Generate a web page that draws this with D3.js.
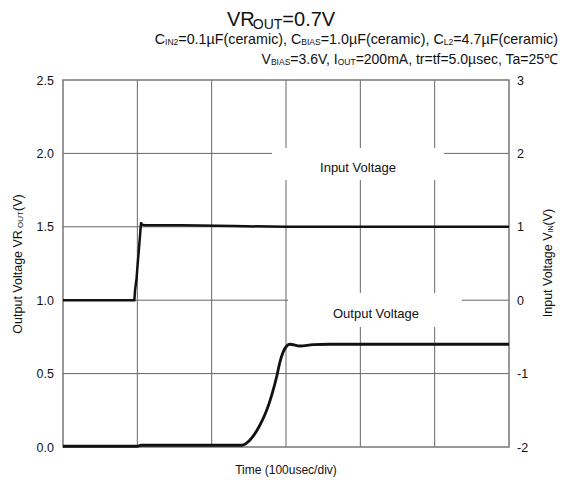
<!DOCTYPE html>
<html lang="en">
<head>
    <meta charset="UTF-8">
    <title>VR_OUT transient</title>
    <script src="https://d3js.org/d3.v7.min.js"></script>
    <style>
        body { margin: 0; background: #fff; }
        text { font-family: Arial, "Liberation Sans", sans-serif; fill: #111; }
    </style>
</head>
<body>
    <script>
        // time in usec, 100 usec per division
        var inputTime  = [0, 96, 97, 99, 100.5, 103, 105, 106, 110, 160, 230, 300, 600];
        var inputVolts = [0, 0, 0.14, 0.3, 0.5, 0.8, 1.06, 1.03, 1.02, 1.02, 1.01, 1.0, 1.0];

        var outputTime  = [0, 100, 105, 240.4, 251.6, 265, 274, 280.8, 287.5, 291.9, 296.4, 301, 305.4, 318.8, 336.3, 359.2, 600];
        var outputVolts = [0.005, 0.005, 0.012, 0.012, 0.048, 0.15, 0.25, 0.354, 0.48, 0.58, 0.65, 0.688, 0.70, 0.688, 0.697, 0.70, 0.70];

        var leftTicks = [0, 0.5, 1.0, 1.5, 2.0, 2.5];
        var rightTicks = [-2, -1, 0, 1, 2, 3];
        var timeTicks = [0, 100, 200, 300, 400, 500, 600];

        var width = 564, height = 482;
        var plotL = 63, plotR = 509, plotT = 80, plotB = 447;

        var svg = d3.select("body").append("svg")
            .attr("width", width)
            .attr("height", height)

        var x = d3.scaleLinear().domain([0, 600]).range([plotL, plotR])
        var yL = d3.scaleLinear().domain([0, 2.5]).range([plotB, plotT])
        var yR = d3.scaleLinear().domain([-2, 3]).range([plotB, plotT])

        // grid
        svg.append("g").selectAll("line")
            .data(leftTicks.slice(1, -1))
            .join("line")
            .attr("x1", plotL).attr("x2", plotR)
            .attr("y1", d => yL(d)).attr("y2", d => yL(d))
            .attr("stroke", "#666").attr("stroke-width", 1)

        svg.append("g").selectAll("line")
            .data(timeTicks.slice(1, -1))
            .join("line")
            .attr("x1", d => x(d)).attr("x2", d => x(d))
            .attr("y1", plotT).attr("y2", plotB)
            .attr("stroke", "#666").attr("stroke-width", 1)

        // white label boxes over the grid
        svg.append("rect").attr("x", 272).attr("y", 148).attr("width", 172).attr("height", 32).attr("fill", "#fff")
        svg.append("rect").attr("x", 288).attr("y", 293).attr("width", 174).attr("height", 34).attr("fill", "#fff")

        svg.append("rect")
            .attr("x", plotL).attr("y", plotT)
            .attr("width", plotR - plotL).attr("height", plotB - plotT)
            .attr("fill", "none").attr("stroke", "#777").attr("stroke-width", 1.5)

        // axes (labels only, frame drawn above)
        var yAxisL = d3.axisLeft(yL).tickValues(leftTicks).tickFormat(d3.format(".1f")).tickSize(0).tickPadding(9)
        var yAxisR = d3.axisRight(yR).tickValues(rightTicks).tickFormat(d => d).tickSize(0).tickPadding(8)

        svg.append("g").attr("transform", "translate(" + plotL + ",0)").call(yAxisL)
            .call(g => g.select(".domain").remove())
            .selectAll("text").attr("font-size", 12.5).attr("fill", "#111")
        svg.append("g").attr("transform", "translate(" + plotR + ",0)").call(yAxisR)
            .call(g => g.select(".domain").remove())
            .selectAll("text").attr("font-size", 12.5).attr("fill", "#111")

        // curves
        var lineIn = d3.line().x((d, i) => x(inputTime[i])).y(d => yR(d))
        var lineOut = d3.line().x((d, i) => x(outputTime[i])).y(d => yL(d)).curve(d3.curveMonotoneX)

        svg.append("path").datum(inputVolts).attr("d", lineIn)
            .attr("fill", "none").attr("stroke", "#111").attr("stroke-width", 2.5)
        svg.append("path").datum(outputVolts).attr("d", lineOut)
            .attr("fill", "none").attr("stroke", "#111").attr("stroke-width", 2.8)

        // annotations
        svg.append("text").attr("x", 358).attr("y", 172).attr("text-anchor", "middle")
            .attr("font-size", 13).text("Input Voltage")
        svg.append("text").attr("x", 376).attr("y", 318).attr("text-anchor", "middle")
            .attr("font-size", 13).text("Output Voltage")

        // titles
        var t1 = svg.append("text").attr("x", 227).attr("y", 26).attr("font-size", 20)
        t1.append("tspan").text("VR")
        t1.append("tspan").attr("font-size", 14).attr("dy", 2.5).attr("dx", -2).text("OUT")
        t1.append("tspan").attr("dy", -2.5).text("=0.7V")

        function sub(t, s) {
            t.append("tspan").attr("font-size", 8.5).attr("dy", 1).text(s)
        }
        function norm(t, s) {
            t.append("tspan").attr("dy", -1).text(s)
        }

        var t2 = svg.append("text").attr("x", 558).attr("y", 44).attr("font-size", 14.3).attr("text-anchor", "end")
        t2.append("tspan").text("C")
        sub(t2, "IN2"); norm(t2, "=0.1µF(ceramic), C")
        sub(t2, "BIAS"); norm(t2, "=1.0µF(ceramic), C")
        sub(t2, "L2"); norm(t2, "=4.7µF(ceramic)")

        var t3 = svg.append("text").attr("x", 558).attr("y", 64).attr("font-size", 14).attr("text-anchor", "end")
        t3.append("tspan").text("V")
        sub(t3, "BIAS"); norm(t3, "=3.6V, I")
        sub(t3, "OUT"); norm(t3, "=200mA, tr=tf=5.0µsec, Ta=25℃")

        // axis titles
        svg.append("text").attr("x", (plotL + plotR) / 2).attr("y", 474).attr("text-anchor", "middle")
            .attr("font-size", 12).text("Time (100usec/div)")

        var la = svg.append("text").attr("transform", "translate(22,264) rotate(-90)")
            .attr("text-anchor", "middle").attr("font-size", 12.5)
        la.append("tspan").text("Output Voltage VR")
        la.append("tspan").attr("font-size", 8).attr("dy", 1).text(" OUT")
        la.append("tspan").attr("dy", -1).text("(V)")

        var ra = svg.append("text").attr("transform", "translate(552,263) rotate(-90)")
            .attr("text-anchor", "middle").attr("font-size", 12.5)
        ra.append("tspan").text("Input Voltage V")
        ra.append("tspan").attr("font-size", 7).attr("dy", 1).text("IN")
        ra.append("tspan").attr("dy", -1).text("(V)")
    </script>
</body>
</html>
